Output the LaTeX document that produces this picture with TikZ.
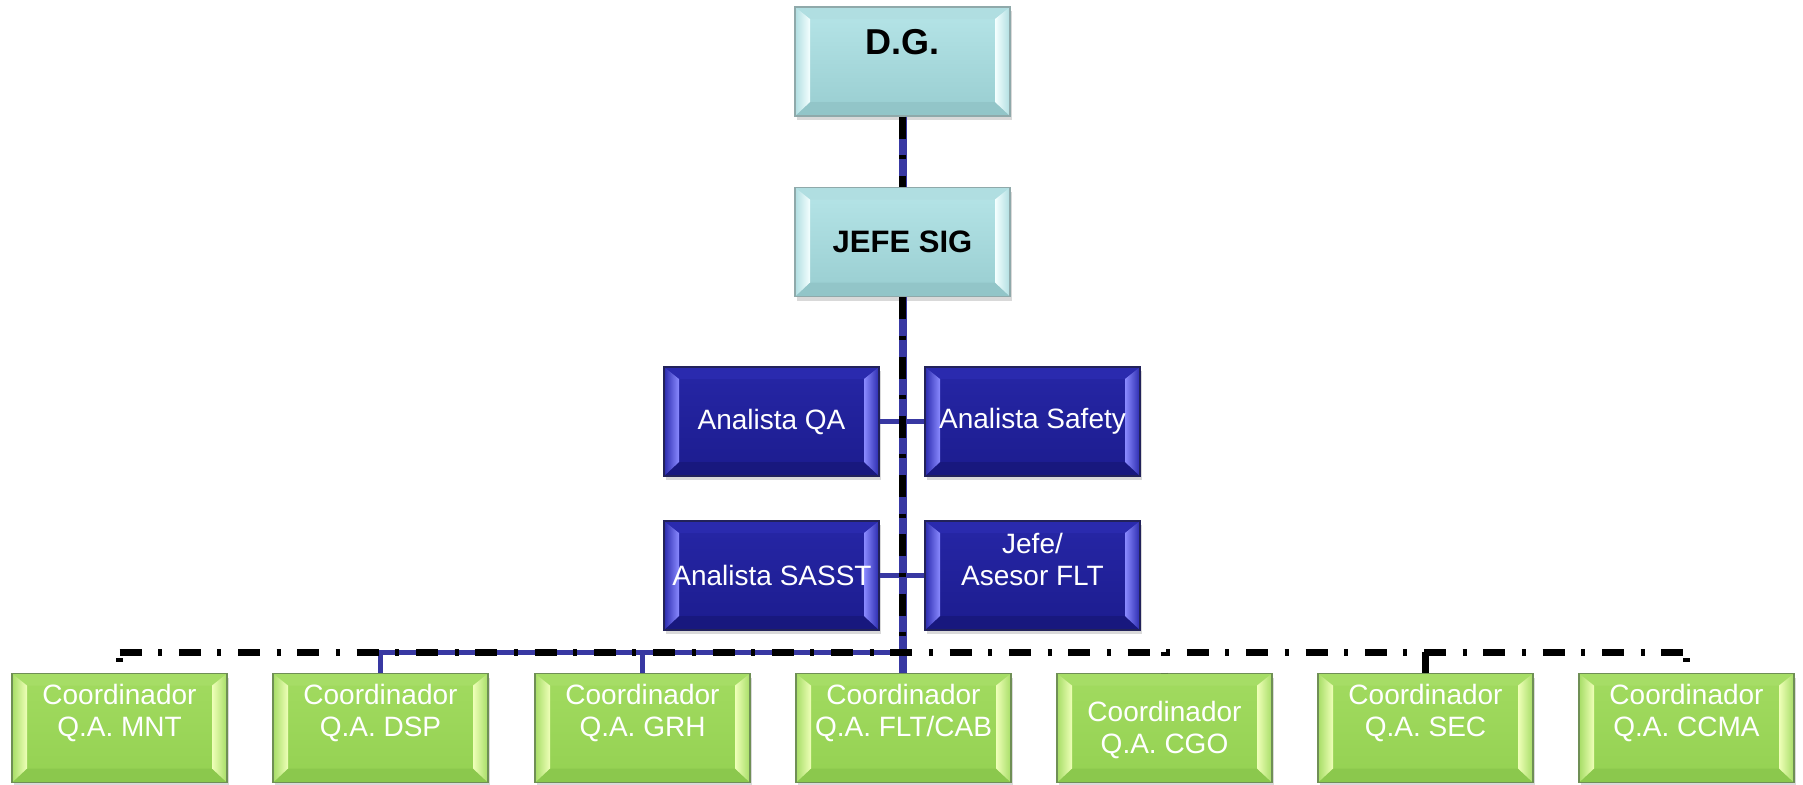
\documentclass[tikz,border=0pt]{standalone}
\usepackage{fontspec}
\setmainfont{Liberation Sans}
\usetikzlibrary{shadows}
\definecolor{tealA}{HTML}{B6E5E8}
\definecolor{tealB}{HTML}{98CDD0}
\definecolor{tealBand}{HTML}{B0DEE1}
\definecolor{tealHi}{HTML}{F4FFFF}
\definecolor{tealBandB}{HTML}{92C5C8}
\definecolor{tealLine}{HTML}{8FA9AA}
\definecolor{blueA}{HTML}{2626A6}
\definecolor{blueB}{HTML}{1C1C8E}
\definecolor{blueBand}{HTML}{2A2AAE}
\definecolor{blueHi}{HTML}{8A8AFF}
\definecolor{blueBandB}{HTML}{18187E}
\definecolor{blueLine}{HTML}{22225A}
\definecolor{greenA}{HTML}{A2DB60}
\definecolor{greenB}{HTML}{94D152}
\definecolor{greenBand}{HTML}{A6DD66}
\definecolor{greenHi}{HTML}{EFFFB8}
\definecolor{greenBandB}{HTML}{8BC84D}
\definecolor{greenLine}{HTML}{6F8F55}
\definecolor{linkblue}{HTML}{3838A2}
\tikzset{
  bev/.style n args={6}{draw=#6, top color=#1, bottom color=#2,
    path picture={
      \path (path picture bounding box.north west) coordinate (bA)
            (path picture bounding box.north east) coordinate (bB)
            (path picture bounding box.south east) coordinate (bC)
            (path picture bounding box.south west) coordinate (bD);
      \path ([shift={(7.5pt,-6pt)}]bA) coordinate (iA)
            ([shift={(-7.5pt,-6pt)}]bB) coordinate (iB)
            ([shift={(-7.5pt,7pt)}]bC) coordinate (iC)
            ([shift={(7.5pt,7pt)}]bD) coordinate (iD);
      \fill[#3] (bA) -- (bB) -- (iB) -- (iA) -- cycle;
      \fill[#5] (bD) -- (bC) -- (iC) -- (iD) -- cycle;
      \shade[left color=#3, right color=#4] (bA) -- (iA) -- (iD) -- (bD) -- cycle;
      \shade[left color=#4, right color=#3] (iB) -- (bB) -- (bC) -- (iC) -- cycle;
    }},
}
\begin{document}
\begin{tikzpicture}[x=0.5pt,y=-0.5pt,
  orgbox/.style={rectangle, inner sep=0pt, minimum width=107.5pt, minimum height=54.5pt,
    line width=0.7pt, drop shadow={shadow xshift=0.8pt, shadow yshift=-2.2pt, opacity=0.25, fill=black!60}},
  tealbox/.style={orgbox, bev={tealA}{tealB}{tealBand}{tealHi}{tealBandB}{tealLine}},
  bluebox/.style={orgbox, bev={blueA}{blueB}{blueBand}{blueHi}{blueBandB}{blueLine}},
  greenbox/.style={orgbox, bev={greenA}{greenB}{greenBand}{greenHi}{greenBandB}{greenLine}},
  wtext/.style={text=white, font=\fontsize{14}{16}\selectfont, align=center, inner sep=0pt},
  btext/.style={text=black, align=center, inner sep=0pt},
  bluelink/.style={draw=linkblue, line width=2.5pt},
  bluevert/.style={draw=linkblue, line width=4pt},
  dashdotline/.style={draw=black, line width=3.5pt, dash pattern=on 11pt off 8.25pt on 2pt off 8.4pt},
]
\useasboundingbox (0,0) rectangle (1803,784);

% boxes
\node[tealbox] (dg) at (902.5,61.5) {};
\node[tealbox] (sig) at (902.5,242) {};
\node[bluebox] (qa) at (771.5,421.5) {};
\node[bluebox] (safety) at (1032.5,421.5) {};
\node[bluebox] (sasst) at (771.5,575.5) {};
\node[bluebox] (jefe) at (1032.5,575.5) {};
\node[greenbox] (mnt) at (119.5,728) {};
\node[greenbox] (dsp) at (380.5,728) {};
\node[greenbox] (grh) at (642.5,728) {};
\node[greenbox] (flt) at (903.5,728) {};
\node[greenbox] (cgo) at (1164.5,728) {};
\node[greenbox] (sec) at (1425.5,728) {};
\node[greenbox] (ccma) at (1686.5,728) {};

% texts
\node[btext, font=\fontsize{18}{21}\selectfont\bfseries] (dg-t) at (902.5,42) {D.G.};
\node[btext, font=\fontsize{15.5}{18}\selectfont\bfseries] (sig-t) at (902.5,242) {JEFE SIG};
\node[wtext] (qa-t) at (771.5,421.5) {Analista QA};
\node[wtext] (safety-t) at (1032.5,421.5) {Analista Safety};
\node[wtext] (sasst-t) at (772,575.5) {Analista SASST};
\node[wtext] (jefe-t) at (1032.5,559.5) {Jefe/\\Asesor FLT};
\node[wtext] (mnt-t) at (119.5,713) {Coordinador\\Q.A. MNT};
\node[wtext] (dsp-t) at (380.5,713) {Coordinador\\Q.A. DSP};
\node[wtext] (grh-t) at (642.5,713) {Coordinador\\Q.A. GRH};
\node[wtext] (flt-t) at (903.5,713) {Coordinador\\Q.A. FLT/CAB};
\node[wtext] (cgo-t) at (1164.5,730) {Coordinador\\Q.A. CGO};
\node[wtext] (sec-t) at (1425.5,713) {Coordinador\\Q.A. SEC};
\node[wtext] (ccma-t) at (1686.5,713) {Coordinador\\Q.A. CCMA};

\coordinate (busy) at (0,652);

% blue solid connectors
\draw[bluelink] (qa.east) -- (safety.west);
\draw[bluelink] (sasst.east) -- (jefe.west);
\draw[bluevert] (dg.south) -- (sig.north);
\draw[bluevert] (sig.south) -- (dg.south |- flt.north);
\draw[bluelink] (dsp.north) -- (dsp.north |- busy) -- (dg.south |- busy);
\draw[bluelink] (grh.north) -- (grh.north |- busy);

% black dash-dot connectors
\draw[dashdotline] (dg.south) -- (sig.north);
\draw[dashdotline] (sig.south) -- (dg.south |- busy);
\draw[dashdotline] (mnt.north |- busy) -- (ccma.north |- busy);
\draw[dashdotline, dash phase=16.25pt] (mnt.north |- busy) -- (mnt.north);
\draw[dashdotline, dash phase=16.25pt] (ccma.north |- busy) -- (ccma.north);
\draw[dashdotline, dash phase=19.25pt] (cgo.north |- busy) -- (cgo.north);
\draw[dashdotline] (sec.north |- busy) -- (sec.north);
\end{tikzpicture}
\end{document}
